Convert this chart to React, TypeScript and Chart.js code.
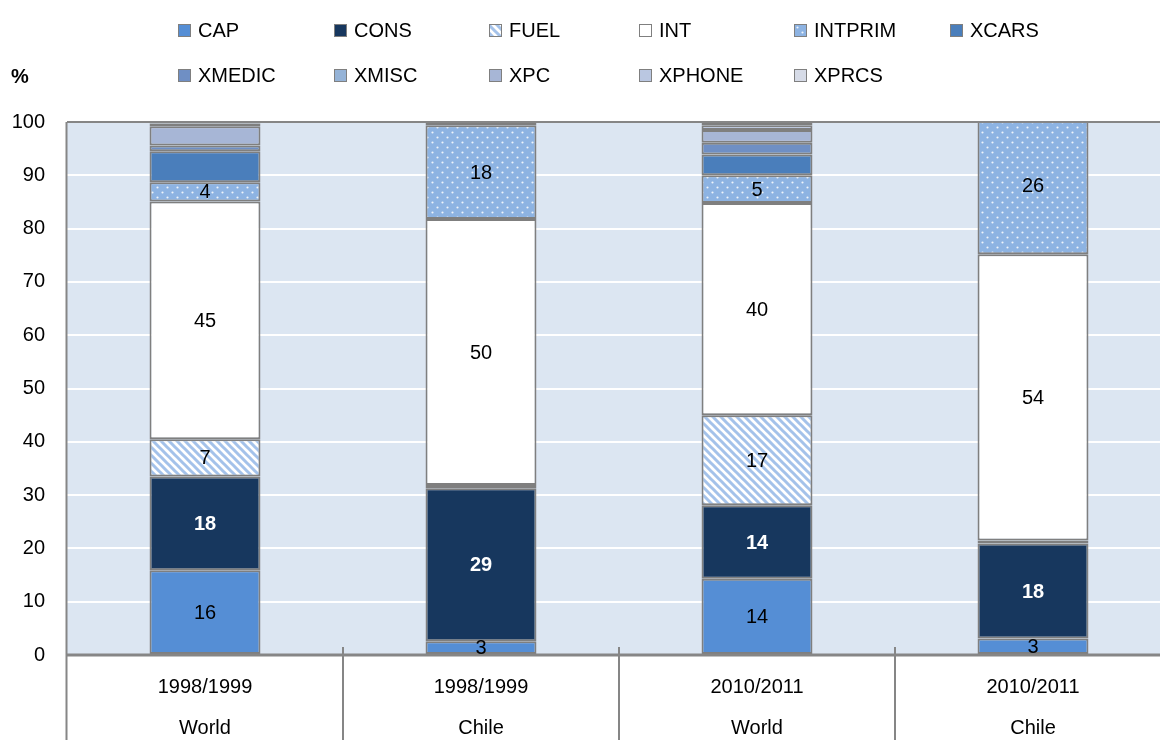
import React, { useEffect, useRef } from "react";
import { Chart, registerables } from "chart.js";

Chart.register(...registerables);

const FONT = "'Liberation Sans', Arial, sans-serif";
const FS = 20;

const categories = [
  ["1998/1999", "World"],
  ["1998/1999", "Chile"],
  ["2010/2011", "World"],
  ["2010/2011", "Chile"],
];
const seriesNames = ["CAP", "CONS", "FUEL", "INT", "INTPRIM", "XCARS", "XMEDIC", "XMISC", "XPC", "XPHONE", "XPRCS"];

const CAP = [15.9, 2.6, 14.3, 3.1];
const CONS = [17.6, 28.7, 13.8, 17.8];
const FUEL = [7.0, 0.6, 16.9, 0.6];
const INT = [44.6, 49.9, 39.8, 53.7];
const INTPRIM = [3.6, 17.6, 5.2, 25.6];
const XCARS = [5.8, 0, 3.9, 0];
const XMEDIC = [1.1, 0, 2.2, 0];
const XMISC = [0, 0, 0, 0];
const XPC = [3.6, 0.6, 2.4, 0];
const XPHONE = [0.5, 0, 0.9, 0];
const XPRCS = [0.3, 0, 0.6, 0];

const seriesValues = [CAP, CONS, FUEL, INT, INTPRIM, XCARS, XMEDIC, XMISC, XPC, XPHONE, XPRCS];
const labelledSeries = ["CAP", "CONS", "FUEL", "INT", "INTPRIM"];

const Y_MIN = 0;
const Y_MAX = 100;
const Y_STEP = 10;

function makeStripes(): CanvasPattern | string {
  const c = document.createElement("canvas");
  c.width = 8;
  c.height = 8;
  const g = c.getContext("2d");
  if (!g) return "#A6C4EB";
  g.fillStyle = "#ffffff";
  g.fillRect(0, 0, 8, 8);
  g.strokeStyle = "#A4C2EA";
  g.lineWidth = 3;
  g.beginPath();
  g.moveTo(-4, -4);
  g.lineTo(12, 12);
  g.moveTo(-4, 4);
  g.lineTo(4, 12);
  g.moveTo(4, -4);
  g.lineTo(12, 4);
  g.stroke();
  return g.createPattern(c, "repeat") || "#A6C4EB";
}

function makeDots(): CanvasPattern | string {
  const c = document.createElement("canvas");
  c.width = 10;
  c.height = 10;
  const g = c.getContext("2d");
  if (!g) return "#8DB3E2";
  g.fillStyle = "#8DB3E2";
  g.fillRect(0, 0, 10, 10);
  g.fillStyle = "rgba(255,255,255,0.85)";
  g.beginPath();
  g.arc(2.5, 2.5, 1.1, 0, Math.PI * 2);
  g.arc(7.5, 7.5, 1.1, 0, Math.PI * 2);
  g.fill();
  return g.createPattern(c, "repeat") || "#8DB3E2";
}

export default function App() {
  const ref = useRef<HTMLCanvasElement | null>(null);

  useEffect(() => {
    if (!ref.current) return;
    const stripes = makeStripes();
    const dots = makeDots();
    const fills: any[] = [
      "#558ED5",
      "#17375E",
      stripes,
      "#FFFFFF",
      dots,
      "#4A7EBB",
      "#6F8FC4",
      "#95B3D7",
      "#A7B6D6",
      "#BAC7E1",
      "#D6DBE7",
    ];

    const datasets = seriesNames.map((name, i) => ({
      label: name,
      data: seriesValues[i],
      backgroundColor: fills[i],
      borderColor: "#7F7F7F",
      borderWidth: (c: any) => (seriesValues[i][c.dataIndex] > 0 ? 2 : 0),
      borderSkipped: false as any,
      categoryPercentage: 1,
      barPercentage: 0.402,
    }));

    const framePlugin = {
      id: "frame",
      beforeDraw(chart: any) {
        const { ctx, chartArea } = chart;
        ctx.save();
        ctx.fillStyle = "#DCE6F2";
        ctx.fillRect(chartArea.left, chartArea.top, chartArea.right - chartArea.left, chartArea.bottom - chartArea.top);
        ctx.restore();
      },
      afterDatasetsDraw(chart: any) {
        const { ctx, chartArea } = chart;
        const xs = chart.scales.x;
        ctx.save();
        ctx.strokeStyle = "#868686";
        ctx.lineWidth = 2;
        ctx.beginPath();
        ctx.moveTo(chartArea.left, chartArea.top);
        ctx.lineTo(chartArea.right, chartArea.top);
        ctx.stroke();
        ctx.beginPath();
        ctx.moveTo(chartArea.left - 0.5, chartArea.top);
        ctx.lineTo(chartArea.left - 0.5, chart.height);
        ctx.stroke();
        for (let i = 1; i < categories.length; i++) {
          const bx = (xs.getPixelForValue(i - 1) + xs.getPixelForValue(i)) / 2;
          ctx.beginPath();
          ctx.moveTo(bx, chartArea.bottom - 8);
          ctx.lineTo(bx, chart.height);
          ctx.stroke();
        }
        ctx.lineWidth = 3;
        ctx.beginPath();
        ctx.moveTo(chartArea.left - 1, chartArea.bottom);
        ctx.lineTo(chartArea.right, chartArea.bottom);
        ctx.stroke();
        ctx.restore();

        ctx.save();
        ctx.textAlign = "center";
        ctx.textBaseline = "middle";
        labelledSeries.forEach((name) => {
          const di = seriesNames.indexOf(name);
          const meta = chart.getDatasetMeta(di);
          meta.data.forEach((el: any, j: number) => {
            const v = seriesValues[di][j];
            if (v < 2.5) return;
            const y = (el.y + el.base) / 2;
            if (name === "CONS") {
              ctx.fillStyle = "#FFFFFF";
              ctx.font = `bold ${FS}px ${FONT}`;
            } else {
              ctx.fillStyle = "#000000";
              ctx.font = `${FS}px ${FONT}`;
            }
            ctx.fillText(String(Math.round(v)), el.x, y + 1);
          });
        });
        ctx.restore();
      },
      afterDraw(chart: any) {
        const { ctx } = chart;
        ctx.save();
        const cols = [178, 334, 489, 639, 794, 950];
        const rows = [30, 75];
        ctx.textBaseline = "middle";
        ctx.textAlign = "left";
        ctx.font = `${FS}px ${FONT}`;
        seriesNames.forEach((name, i) => {
          const r = i < 6 ? 0 : 1;
          const c = i < 6 ? i : i - 6;
          const x = cols[c];
          const y = rows[r];
          ctx.fillStyle = fills[i];
          ctx.fillRect(x, y - 6, 13, 13);
          ctx.strokeStyle = "#7F7F7F";
          ctx.lineWidth = 1;
          ctx.strokeRect(x + 0.5, y - 5.5, 12, 12);
          ctx.fillStyle = "#000000";
          ctx.fillText(name, x + 20, y + 1);
        });
        ctx.font = `bold ${FS}px ${FONT}`;
        ctx.fillText("%", 11, 77);
        ctx.restore();
      },
    };

    const chart = new Chart(ref.current, {
      type: "bar",
      data: { labels: categories as any, datasets: datasets as any },
      options: {
        animation: false,
        responsive: true,
        maintainAspectRatio: false,
        layout: { padding: { top: 122, left: 0, right: 0, bottom: 0 } },
        plugins: { legend: { display: false }, tooltip: { enabled: false } },
        scales: {
          x: {
            stacked: true,
            grid: { display: false, drawTicks: false },
            border: { display: false },
            ticks: {
              color: "#000",
              font: { family: FONT, size: FS, lineHeight: 41 / FS },
              padding: 12,
              maxRotation: 0,
              autoSkip: false,
            },
            afterFit: (s: any) => {
              s.height = 85;
            },
          },
          y: {
            stacked: true,
            min: Y_MIN,
            max: Y_MAX,
            ticks: { stepSize: Y_STEP, color: "#000", font: { family: FONT, size: FS }, padding: 22 },
            grid: { color: "#FFFFFF", lineWidth: 2, drawTicks: false },
            border: { display: false },
            afterFit: (s: any) => {
              s.width = 67;
            },
          },
        },
      },
      plugins: [framePlugin],
    });
    return () => chart.destroy();
  }, []);

  return (
    <div style={{ position: "absolute", left: 0, top: 0, width: 1160, height: 740, overflow: "hidden" }}>
      <div style={{ position: "relative", width: 1171, height: 740 }}>
        <canvas ref={ref} />
      </div>
    </div>
  );
}
